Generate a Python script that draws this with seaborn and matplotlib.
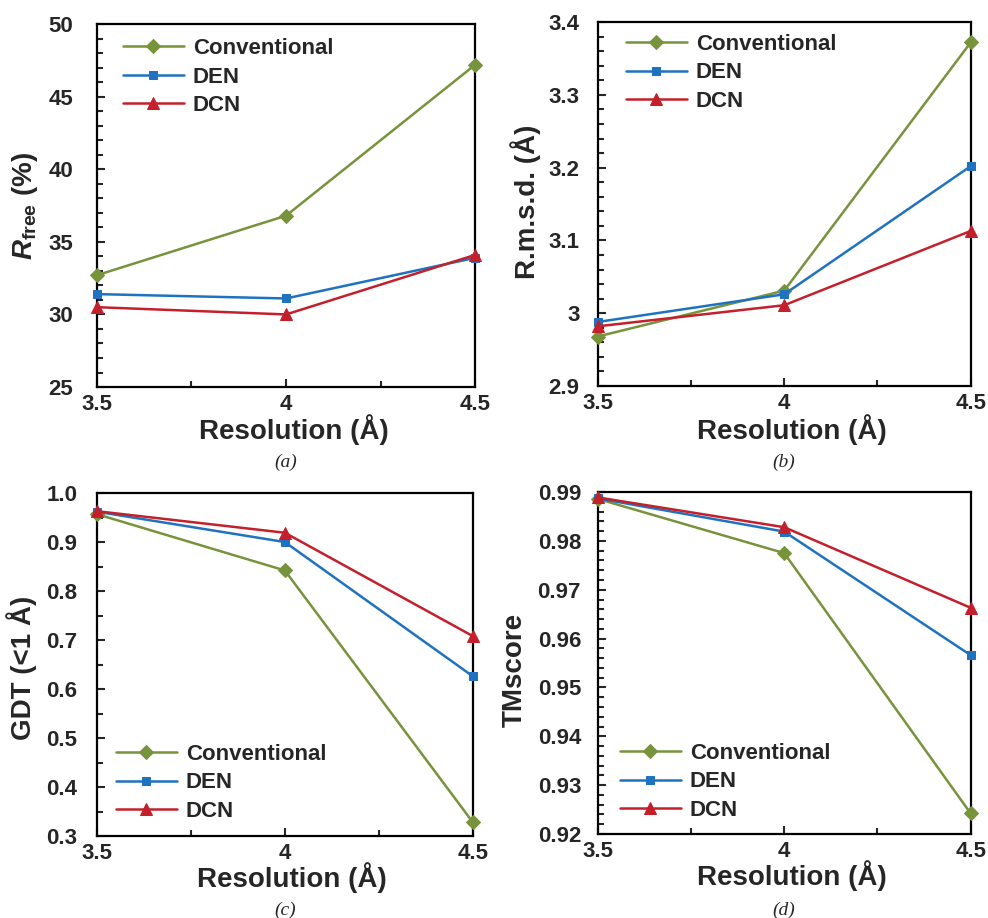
import numpy as np
import pandas as pd
import seaborn as sns
import matplotlib.pyplot as plt
from matplotlib.ticker import MultipleLocator, FixedLocator, FixedFormatter

resolution = [3.5, 4.0, 4.5]
methods = ['Conventional', 'DEN', 'DCN']

rfree_conv = [32.7, 36.8, 47.2]
rfree_den = [31.4, 31.1, 33.9]
rfree_dcn = [30.5, 30.0, 34.1]

rmsd_conv = [2.968, 3.031, 3.372]
rmsd_den = [2.988, 3.026, 3.202]
rmsd_dcn = [2.982, 3.011, 3.113]

gdt_conv = [0.957, 0.842, 0.328]
gdt_den = [0.962, 0.900, 0.626]
gdt_dcn = [0.963, 0.919, 0.708]

tm_conv = [0.9886, 0.9775, 0.9242]
tm_den = [0.9887, 0.9819, 0.9566]
tm_dcn = [0.9889, 0.9828, 0.9663]

colors = {'Conventional': '#77933C', 'DEN': '#1F72C0', 'DCN': '#C4202B'}
markers = {'Conventional': 'D', 'DEN': 's', 'DCN': '^'}
msizes = {'Conventional': 7, 'DEN': 6, 'DCN': 8.5}

sns.set_style('ticks')
plt.rcParams['font.family'] = ['Liberation Sans', 'DejaVu Sans']
plt.rcParams['font.weight'] = 'bold'
plt.rcParams['mathtext.fontset'] = 'custom'
plt.rcParams['mathtext.rm'] = 'Liberation Sans:bold'
plt.rcParams['mathtext.it'] = 'Liberation Sans:italic:bold'
plt.rcParams['mathtext.bf'] = 'Liberation Sans:bold'

fig = plt.figure(figsize=(9.88, 9.18), dpi=100)

panels = [
    dict(rect=[0.098, 0.5784, 0.383, 0.3954], data=[rfree_conv, rfree_den, rfree_dcn],
         ylim=(25, 50), major=5, minor=1, fmt=['25', '30', '35', '40', '45', '50'],
         ylabel=r'$R_{\rm free}$ (%)', ylc=(-0.149, 0.5), pad=17,
         leg='upper left', anchor=(0.045, 0.986), cap='(a)', capxy=(0.289, 0.4967)),
    dict(rect=[0.605, 0.5795, 0.3775, 0.3965], data=[rmsd_conv, rmsd_den, rmsd_dcn],
         ylim=(2.9, 3.4), major=0.1, minor=0.02, fmt=['2.9', '3', '3.1', '3.2', '3.3', '3.4'],
         ylabel='R.m.s.d. (Å)', ylc=(-0.153, 0.505), pad=13,
         leg='upper left', anchor=(0.051, 0.992), cap='(b)', capxy=(0.793, 0.4967)),
    dict(rect=[0.098, 0.0893, 0.3806, 0.3736], data=[gdt_conv, gdt_den, gdt_dcn],
         ylim=(0.3, 1.0), major=0.1, minor=0.05,
         fmt=['0.3', '0.4', '0.5', '0.6', '0.7', '0.8', '0.9', '1.0'],
         ylabel='GDT (<1 Å)', ylc=(-0.16, 0.49), pad=14,
         leg='lower left', anchor=(0.027, 0.015), cap='(c)', capxy=(0.289, 0.0087)),
    dict(rect=[0.605, 0.0915, 0.3775, 0.3725], data=[tm_conv, tm_den, tm_dcn],
         ylim=(0.92, 0.99), major=0.01, minor=0.002,
         fmt=['0.92', '0.93', '0.94', '0.95', '0.96', '0.97', '0.98', '0.99'],
         ylabel='TMscore', ylc=(-0.188, 0.48), pad=12,
         leg='lower left', anchor=(0.035, 0.012), cap='(d)', capxy=(0.793, 0.0087)),
]

for p in panels:
    ax = fig.add_axes(p['rect'])
    for name, vals in zip(methods, p['data']):
        sns.lineplot(x=resolution, y=vals, ax=ax, color=colors[name], marker=markers[name],
                     markersize=msizes[name], markeredgecolor=colors[name], linewidth=1.8,
                     label=name, clip_on=False, zorder=3)
    ax.set_xlim(3.5, 4.5)
    ax.set_ylim(*p['ylim'])
    ax.xaxis.set_major_locator(FixedLocator([3.5, 4.0, 4.5]))
    ax.xaxis.set_major_formatter(FixedFormatter(['3.5', '4', '4.5']))
    ax.xaxis.set_minor_locator(MultipleLocator(0.25))
    lo, hi = p['ylim']
    yt = np.round(np.arange(lo, hi + p['major'] / 2, p['major']), 4)
    ax.yaxis.set_major_locator(FixedLocator(yt))
    ax.yaxis.set_major_formatter(FixedFormatter(p['fmt']))
    ax.yaxis.set_minor_locator(MultipleLocator(p['minor']))
    ax.tick_params(which='both', direction='in', width=1.5, top=False, right=False)
    ax.tick_params(which='major', length=6)
    ax.tick_params(which='minor', length=4)
    ax.tick_params(axis='y', which='major', labelsize=16, pad=p['pad'])
    ax.tick_params(axis='x', which='major', labelsize=16, pad=5)
    for s in ax.spines.values():
        s.set_linewidth(1.6)
        s.set_color('black')
    ax.set_xlabel('Resolution (Å)', fontsize=20, fontweight='bold')
    ax.xaxis.set_label_coords(0.52, -0.076)
    ax.set_ylabel(p['ylabel'], fontsize=20, fontweight='bold')
    ax.yaxis.set_label_coords(*p['ylc'])
    ax.legend(loc=p['leg'], bbox_to_anchor=p['anchor'], frameon=False, fontsize=16,
              handlelength=2.75, labelspacing=0.34, handletextpad=0.4, borderaxespad=0)
    fig.text(p['capxy'][0], p['capxy'][1], p['cap'], ha='center', va='center', fontsize=14,
             family='Liberation Serif', style='italic', fontweight='normal')

fig.savefig('out.png', dpi=100)
